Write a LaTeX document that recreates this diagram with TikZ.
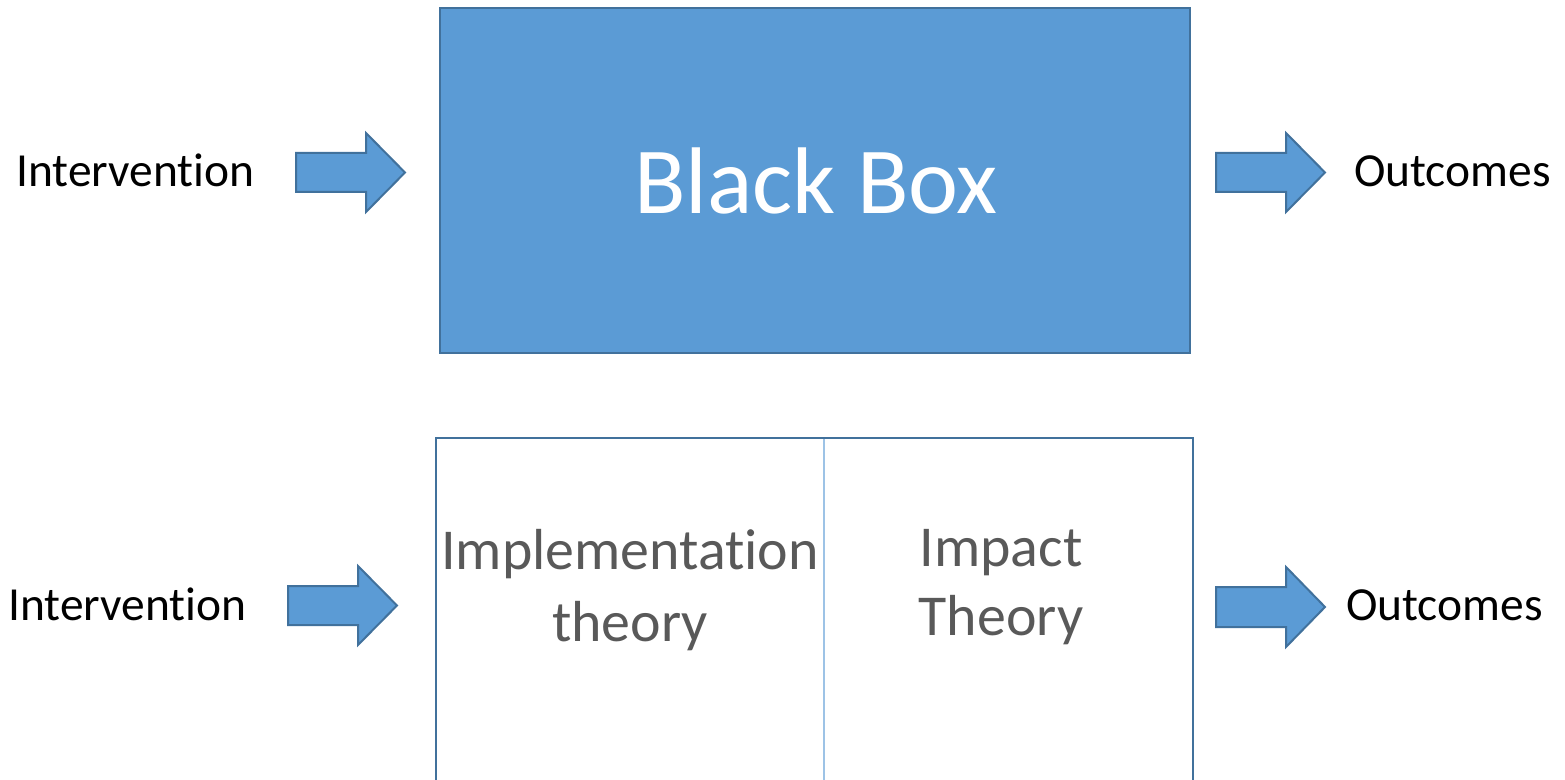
\documentclass[tikz,border=0pt]{standalone}
\usepackage{fontspec}
\setmainfont{Carlito}[RawFeature={-liga;-clig;-calt;-dlig}]
\definecolor{boxfill}{HTML}{5B9BD5}
\definecolor{boxline}{HTML}{41719C}
\definecolor{divline}{HTML}{9DC3E6}
\definecolor{theorytext}{HTML}{595959}
\tikzset{
  blockarrow/.style={fill=boxfill, draw=boxline, line width=1.5pt, line join=miter},
  sidelabel/.style={font=\fontsize{35.6}{42}\selectfont, text=black, inner sep=0pt, anchor=base west},
  theorylabel/.style={font=\fontsize{43.4}{52}\selectfont, text=theorytext, inner sep=0pt, anchor=base},
}
\begin{document}
\begin{tikzpicture}[x=0.75pt, y=-0.75pt]
\useasboundingbox (0,0) rectangle (1565,780);
% top box
\node[draw=boxline, fill=boxfill, line width=1.5pt, minimum width=750*0.75pt, minimum height=345*0.75pt, inner sep=0pt] (blackbox) at (815,180.5) {};
\node[font=\fontsize{71}{85}\selectfont, text=white, inner sep=0pt, anchor=base] (bbtext) at (816,214) {Black Box};
% bottom box
\coordinate (bl) at (436,781);
\coordinate (tl) at (436,438);
\coordinate (tr) at (1193,438);
\coordinate (br) at (1193,781);
\coordinate (dt) at (824,439);
\coordinate (db) at (824,781);
\draw[divline, line width=1pt] (dt) -- (db);
\draw[boxline, line width=1.8pt] (bl) -- (tl) -- (tr) -- (br);
\node[theorylabel] (impl1) at (630,569) {Implementation};
\node[theorylabel] (impl2) at (630,641) {theory};
\node[theorylabel] (imp1) at (1001,566) {Impact};
\node[theorylabel] (imp2) at (1001,635) {Theory};
% labels
\node[sidelabel] (in1) at (16,187) {Intervention};
\node[sidelabel] (out1) at (1354,187) {Outcomes};
\node[sidelabel] (in2) at (8,620) {Intervention};
\node[sidelabel] (out2) at (1346,620) {Outcomes};
% arrows
\draw[blockarrow] (296,153) -- (366,153) -- (366,133) -- (405,172.5) -- (366,212) -- (366,192) -- (296,192) -- cycle;
\draw[blockarrow] (1216,153) -- (1286,153) -- (1286,133) -- (1325,172.5) -- (1286,212) -- (1286,192) -- (1216,192) -- cycle;
\draw[blockarrow] (288,586) -- (358,586) -- (358,566) -- (397,605.5) -- (358,645) -- (358,625) -- (288,625) -- cycle;
\draw[blockarrow] (1216,587) -- (1286,587) -- (1286,567) -- (1325,607) -- (1286,647) -- (1286,627) -- (1216,627) -- cycle;
\end{tikzpicture}
\end{document}
